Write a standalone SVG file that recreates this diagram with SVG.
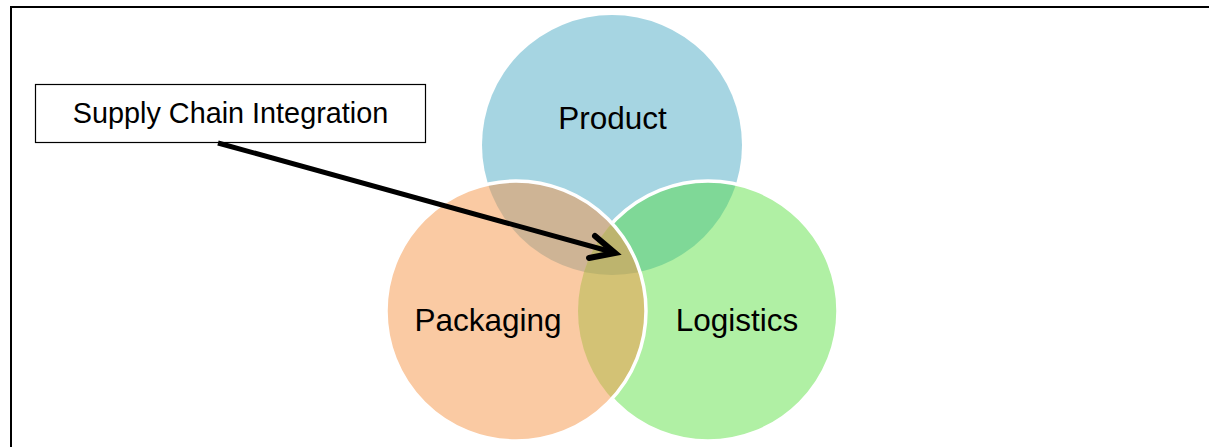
<svg xmlns="http://www.w3.org/2000/svg" width="1209" height="447" viewBox="0 0 1209 447">
  <style>
    .lbl { font-family: "Liberation Sans", Arial, sans-serif; font-size: 31.5px; fill: #000; text-anchor: middle; }
    .box { font-family: "Liberation Sans", Arial, sans-serif; font-size: 28.8px; fill: #000; text-anchor: middle; }
    .ring { fill: none; stroke: #fff; stroke-width: 3.5; }
    .conn { fill: none; stroke: #000; stroke-width: 5; stroke-linecap: butt; stroke-linejoin: miter; }
    .head { stroke-width: 6; stroke-linecap: round; }
  </style>
  <defs>
    <clipPath id="cPk"><circle cx="516" cy="311" r="130"/></clipPath>
    <clipPath id="cL"><circle cx="708" cy="311" r="130"/></clipPath>
    <clipPath id="cP"><circle cx="612" cy="145" r="130"/></clipPath>
  </defs>
  <rect x="0" y="0" width="1209" height="447" fill="#fff"/>
  <path d="M11 447 V7 H1209" fill="none" stroke="#000" stroke-width="2"/>

  <g id="product">
    <circle cx="612" cy="145" r="130" fill="#A6D5E2"/>
  </g>
  <g id="logistics">
    <circle cx="708" cy="311" r="130" fill="#B0F0A4"/>
    <circle cx="612" cy="145" r="130" fill="#7FD897" clip-path="url(#cL)"/>
    <circle cx="708" cy="311" r="130" class="ring"/>
  </g>
  <g id="packaging">
    <circle cx="516" cy="311" r="130" fill="#FACAA3"/>
    <circle cx="612" cy="145" r="130" fill="#CEB495" clip-path="url(#cPk)"/>
    <circle cx="708" cy="311" r="130" fill="#D3C275" clip-path="url(#cPk)"/>
    <g clip-path="url(#cPk)">
      <circle cx="612" cy="145" r="130" fill="#BDB46E" clip-path="url(#cL)"/>
    </g>
    <circle cx="516" cy="311" r="130" class="ring"/>
  </g>
  <g id="labels">
    <text class="lbl" x="612.5" y="129">Product</text>
    <text class="lbl" x="488" y="331">Packaging</text>
    <text class="lbl" x="737" y="331">Logistics</text>
  </g>
  <g id="supply-chain-integration">
    <rect x="35.5" y="84.5" width="390" height="58" fill="#fff" stroke="#000" stroke-width="1.2"/>
    <text class="box" x="230.5" y="123">Supply Chain Integration</text>
  </g>
  <g id="connectors">
    <path class="conn" d="M218 143 L612 252"/>
    <path class="conn head" d="M595 236 L615 253 L589 258"/>
  </g>
</svg>
